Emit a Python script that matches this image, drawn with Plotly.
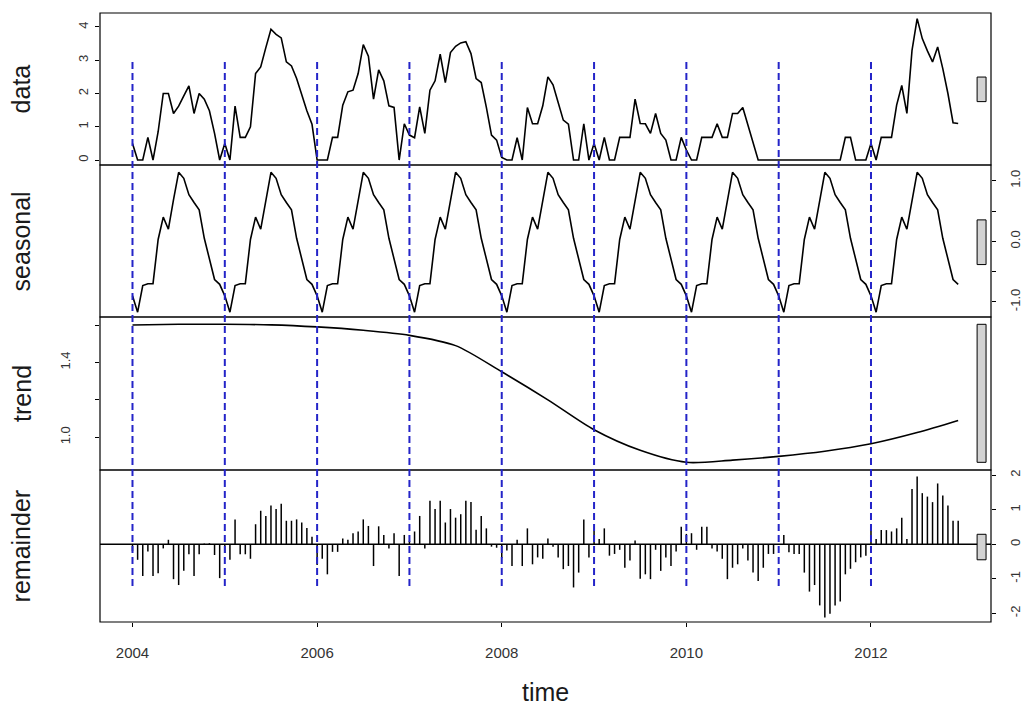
import plotly.graph_objects as go

# ---- series (18 observations per year, starting 2004) ----
FREQ = 18
START_YEAR = 2004

data_values = [
    0.5, 0, 0, 0.68, 0, 0.85, 2.0, 2.0, 1.4, 1.62, 1.93, 2.23, 1.4, 2.0, 1.83, 1.48, 0.8, 0,
    0.5, 0, 1.62, 0.68, 0.68, 1.0, 2.6, 2.8, 3.38, 3.93, 3.78, 3.67, 2.95, 2.83, 2.45, 1.95, 1.48, 1.08,
    0, 0, 0, 0.68, 0.68, 1.65, 2.05, 2.1, 2.6, 3.47, 3.12, 1.83, 2.71, 2.38, 1.63, 1.58, 0, 1.09,
    0.75, 0.67, 1.6, 0.8, 2.1, 2.38, 3.18, 2.33, 3.23, 3.42, 3.52, 3.56, 3.2, 2.45, 2.33, 1.58, 0.75, 0.6,
    0.08, 0, 0, 0.67, 0, 1.58, 1.09, 1.09, 1.63, 2.5, 2.26, 1.73, 1.2, 1.08, 0, 0, 1.09, 0,
    0.5, 0, 0.68, 0, 0, 0.68, 0.68, 0.68, 1.83, 1.1, 1.09, 0.8, 1.4, 0.8, 0.6, 0, 0, 0.68,
    0.3, 0, 0, 0.68, 0.68, 0.68, 1.09, 0.68, 0.68, 1.4, 1.4, 1.58, 1.05, 0.55, 0, 0, 0, 0,
    0, 0, 0, 0, 0, 0, 0, 0, 0, 0, 0, 0, 0, 0.68, 0.68, 0, 0, 0,
    0.5, 0, 0.68, 0.68, 0.68, 1.65, 2.24, 1.4, 3.3, 4.25, 3.65, 3.28, 2.95, 3.4, 2.75, 2.0, 1.12, 1.1,
]

# periodic seasonal component: one cycle of 18 values
seasonal_cycle = [
    -0.9, -1.17, -0.73, -0.7, -0.7, 0.03, 0.4, 0.2, 0.69,
    1.14, 1.04, 0.77, 0.64, 0.52, 0.05, -0.3, -0.63, -0.71,
]

trend_times = [
    2004.0, 2004.5, 2005.0, 2005.5, 2006.0, 2006.5, 2007.0, 2007.5, 2008.0, 2008.5,
    2009.0, 2009.5, 2010.0, 2010.5, 2011.0, 2011.5, 2012.0, 2012.5, 2012.944,
]
trend_values = [
    1.600, 1.604, 1.604, 1.601, 1.590, 1.572, 1.545, 1.49, 1.35, 1.20,
    1.04, 0.93, 0.866, 0.878, 0.898, 0.925, 0.965, 1.025, 1.09,
]

remainder_values = [
    -0.2, -0.45, -0.92, -0.21, -0.92, -0.84, -0.12, 0.13, -1.01, -1.18, -0.77, -0.29, -0.92, -0.29, 0.02, 0.03, -0.31, -0.98,
    -0.25, -0.45, 0.72, -0.29, -0.29, -0.42, 0.58, 0.97, 0.82, 1.12, 1.02, 1.17, 0.68, 0.68, 0.72, 0.63, 0.47, 0.22,
    -0.6, -0.42, -0.87, -0.22, -0.22, 0.17, 0.13, 0.32, 0.37, 0.72, 0.53, -0.63, 0.52, 0.27, -0.12, 0.32, -0.92, 0.27,
    0.1, 0.37, 0.82, -0.12, 1.26, 1.02, 1.26, 0.63, 1.02, 0.77, 0.87, 1.26, 1.22, 0.42, 0.82, 0.46, -0.07, -0.1,
    -0.4, -0.18, -0.63, 0.13, -0.63, 0.46, -0.58, -0.38, -0.42, 0.17, -0.07, -0.38, -0.72, -0.63, -1.25, -0.82, 0.72, -0.38,
    0.4, 0.15, 0.46, -0.33, -0.28, -0.16, -0.68, -0.47, 0.11, -1.0, -0.87, -1.01, -0.16, -0.77, -0.38, -0.63, -0.21, 0.51,
    0.3, 0.32, -0.16, 0.51, 0.51, -0.12, -0.21, -0.42, -1.01, -0.68, -0.58, -0.12, -0.47, -0.82, -1.06, -0.68, -0.28, -0.28,
    0.0, 0.27, -0.23, -0.28, -0.28, -0.82, -1.37, -1.18, -1.77, -2.12, -2.01, -1.77, -1.66, -0.87, -0.71, -0.52, -0.38, -0.33,
    0.4, 0.15, 0.41, 0.41, 0.37, 0.46, 0.77, 0.15, 1.6, 1.96, 1.48, 1.38, 1.22, 1.76, 1.41, 1.12, 0.68, 0.68,
]

panel_names = ["data", "seasonal", "trend", "remainder"]
x_tick_years = [2004, 2006, 2008, 2010, 2012]
year_marks = list(range(2004, 2013))

# ---- derived positions ----
n = len(data_values)
time = [START_YEAR + i / FREQ for i in range(n)]
seasonal_values = (seasonal_cycle * (n // FREQ + 1))[:n]

FONT = "Liberation Sans, Arial, sans-serif"
INK = "#1a1a1a"

# panel domains, top to bottom
domains = [(0.7504, 1.0), (0.5008, 0.7504), (0.2496, 0.5008), (0.0, 0.2496)]
yrefs = ["y", "y2", "y3", "y4"]

fig = go.Figure()
line_style = dict(color="black", width=1.6)
fig.add_trace(go.Scatter(x=time, y=data_values, mode="lines", line=line_style,
                         xaxis="x", yaxis="y", showlegend=False, hoverinfo="skip"))
fig.add_trace(go.Scatter(x=time, y=seasonal_values, mode="lines", line=line_style,
                         xaxis="x", yaxis="y2", showlegend=False, hoverinfo="skip"))
fig.add_trace(go.Scatter(x=trend_times, y=trend_values, mode="lines",
                         line=dict(color="black", width=1.6, shape="spline", smoothing=0.8),
                         xaxis="x", yaxis="y3", showlegend=False, hoverinfo="skip"))

# remainder drawn as vertical spikes from zero
bar_x, bar_y = [], []
for t, r in zip(time, remainder_values):
    bar_x += [t, t, None]
    bar_y += [0, r, None]
fig.add_trace(go.Scatter(x=bar_x, y=bar_y, mode="lines", line=dict(color="black", width=1.5),
                         xaxis="x", yaxis="y4", showlegend=False, hoverinfo="skip"))

shapes = []
# panel frames
for lo, hi in domains:
    shapes.append(dict(type="rect", xref="paper", yref="paper", x0=0, x1=1, y0=lo, y1=hi,
                       line=dict(color="black", width=1.2), layer="above"))
# zero line of the remainder panel
shapes.append(dict(type="line", xref="paper", yref="y4", x0=0, x1=1, y0=0, y1=0,
                   line=dict(color="black", width=1.4)))

# range bars: all the same height in data units (smallest component range)
series_list = [data_values, seasonal_values, trend_values, remainder_values]
ranges = [(min(s), max(s)) for s in series_list]
bar_h = min(hi - lo for lo, hi in ranges)
bx0 = time[-1] + 0.205
bx1 = time[-1] + 0.302
for (lo, hi), yr in zip(ranges, yrefs):
    mid = (lo + hi) / 2
    shapes.append(dict(type="rect", xref="x", yref=yr, x0=bx0, x1=bx1,
                       y0=mid - bar_h / 2, y1=mid + bar_h / 2,
                       fillcolor="#d3d3d3", line=dict(color="black", width=1)))

# dashed year markers
for yv in year_marks:
    shapes.append(dict(type="line", xref="x", yref="paper", x0=yv, x1=yv, y0=0.0591, y1=0.9212,
                       line=dict(color="#2424c8", width=2, dash="7px,4px"), layer="above"))

annotations = []
for name, (lo, hi) in zip(panel_names, domains):
    annotations.append(dict(text=name, xref="paper", yref="paper", x=-0.0882, y=(lo + hi) / 2,
                            xanchor="center", yanchor="middle", textangle=-90, showarrow=False,
                            font=dict(family=FONT, size=25, color=INK)))
annotations.append(dict(text="time", xref="paper", yref="paper", x=0.5, y=-0.115,
                        xanchor="center", yanchor="middle", showarrow=False,
                        font=dict(family=FONT, size=25, color=INK)))

tick_font = dict(family=FONT, size=13, color="#333333")
common_y = dict(showgrid=False, zeroline=False, showline=False, ticks="outside", ticklen=4,
                tickwidth=1, tickcolor="black", tickangle=-90, tickfont=tick_font, anchor="x")

fig.update_layout(
    width=1035, height=706,
    margin=dict(l=100, r=39, t=13, b=84),
    paper_bgcolor="white", plot_bgcolor="white",
    font=dict(family=FONT, color=INK),
    xaxis=dict(domain=[0, 1], range=[2003.648, 2013.30], anchor="y4", showgrid=False,
               zeroline=False, showline=False, ticks="outside", ticklen=4, tickwidth=1,
               tickcolor="black", tickvals=x_tick_years, ticktext=[str(v) for v in x_tick_years],
               tickfont=dict(family=FONT, size=15, color="#333333"), ticklabelstandoff=13),
    yaxis=dict(domain=list(domains[0]), range=[-0.15, 4.42], side="left",
               tickvals=[0, 1, 2, 3, 4], ticktext=["0", "1", "2", "3", "4"],
               ticklabelstandoff=2, **common_y),
    yaxis2=dict(domain=list(domains[1]), range=[-1.25, 1.26], side="right",
                tickvals=[-1, -0.5, 0, 0.5, 1], ticktext=["-1.0", "", "0.0", "", "1.0"],
                ticklabelstandoff=8, **common_y),
    yaxis3=dict(domain=list(domains[2]), range=[0.825, 1.643], side="left",
                tickvals=[1.0, 1.2, 1.4, 1.6], ticktext=["1.0", "", "1.4", ""],
                ticklabelstandoff=20, **common_y),
    yaxis4=dict(domain=list(domains[3]), range=[-2.25, 2.15], side="right",
                tickvals=[-2, -1, 0, 1, 2], ticktext=["-2", "-1", "0", "1", "2"],
                ticklabelstandoff=8, **common_y),
    shapes=shapes,
    annotations=annotations,
)

fig.write_html("out.html")
